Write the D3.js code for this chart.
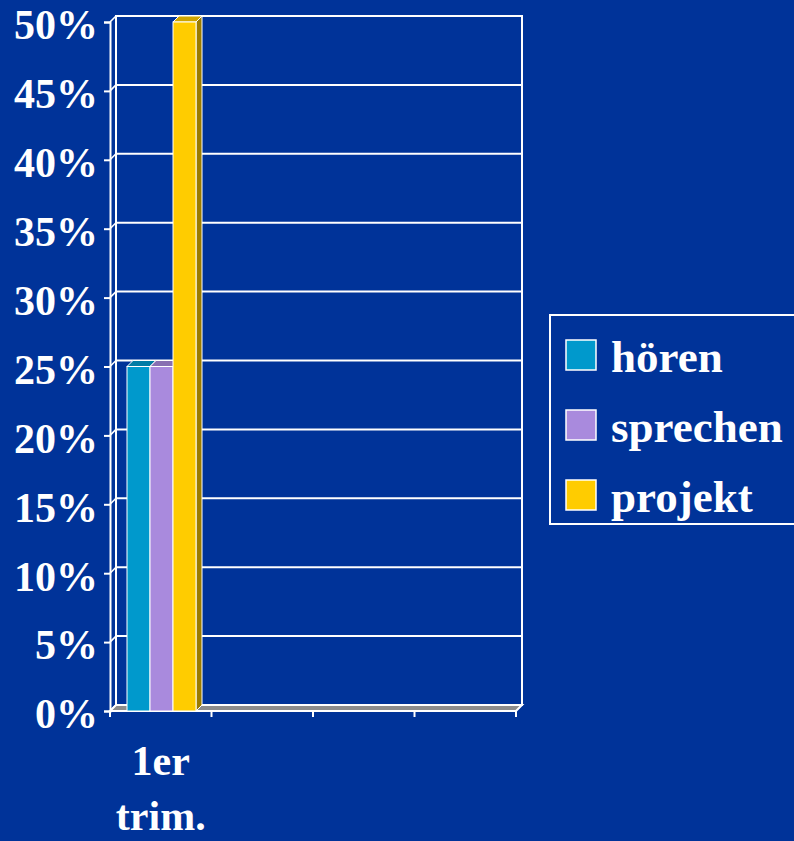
<!DOCTYPE html>
<html>
<head>
<meta charset="utf-8">
<script src="https://cdn.jsdelivr.net/npm/d3@7"></script>
<style>
  html, body { margin: 0; padding: 0; background: #003399; }
  svg { display: block; }
</style>
</head>
<body>
<div class="chart"></div>
<script>
// data
const categories = ["1er trim.", "", "", ""]
const seriesNames = ["hören", "sprechen", "projekt"]
const hoeren = [0.25, null, null, null]
const sprechen = [0.25, null, null, null]
const projekt = [0.50, null, null, null]
const yTicks = [0, 0.05, 0.1, 0.15, 0.2, 0.25, 0.3, 0.35, 0.4, 0.45, 0.5]

const colors = ["#0099CC", "#A98ADD", "#FFCC00"]
const width = 794
const height = 841
const depth = { dx: 6, dy: -6 }
const font = "'Liberation Serif', 'Times New Roman', serif"

const svg = d3.select(".chart").append("svg").attr("width", width).attr("height", height)
svg.append("rect").attr("width", width).attr("height", height).attr("fill", "#003399")

const yScale = d3.scaleLinear().domain([0, 0.5]).range([711, 22])
const xScale = d3.scaleBand().domain(d3.range(categories.length)).range([110, 516]).padding(0)
const inner = d3.scaleBand().domain(seriesNames).range([17, 86]).padding(0)

const y0 = yScale(0)
const xL = xScale.range()[0]
const xR = xScale.range()[1]

// back wall
const wall = svg.append("g")
wall.append("rect")
  .attr("x", xL + depth.dx).attr("y", yScale(0.5) + depth.dy)
  .attr("width", xR - xL).attr("height", y0 - yScale(0.5))
  .attr("fill", "none").attr("stroke", "#fff").attr("stroke-width", 2)

// gridlines + side wall connectors
yTicks.forEach(t => {
  const y = yScale(t)
  wall.append("line")
    .attr("x1", xL + depth.dx).attr("x2", xR + depth.dx)
    .attr("y1", y + depth.dy).attr("y2", y + depth.dy)
    .attr("stroke", "#fff").attr("stroke-width", 2)
  wall.append("line")
    .attr("x1", xL).attr("x2", xL + depth.dx)
    .attr("y1", y).attr("y2", y + depth.dy)
    .attr("stroke", "#fff").attr("stroke-width", 1.6)
})

// floor
svg.append("path")
  .attr("d", `M${xL},${y0} L${xL + depth.dx},${y0 + depth.dy} L${xR + depth.dx},${y0 + depth.dy} L${xR},${y0} Z`)
  .attr("fill", "#8C8C8C").attr("stroke", "#fff").attr("stroke-width", 2)

// y axis
const yAxis = d3.axisLeft(yScale)
  .tickValues(yTicks)
  .tickSize(6)
  .tickPadding(6)
  .tickFormat(d3.format(".0%"))

const yAxisGroup = svg.append("g").attr("transform", `translate(${xL},0)`).call(yAxis)
yAxisGroup.select(".domain").attr("stroke", "#fff").attr("stroke-width", 2)
yAxisGroup.selectAll(".tick line").attr("stroke", "#fff").attr("stroke-width", 2)
yAxisGroup.selectAll(".tick text")
  .attr("fill", "#fff")
  .attr("dy", "0.4em")
  .style("font-family", font)
  .style("font-size", "42px")
  .style("font-weight", "bold")

// x axis ticks at category boundaries
const xBounds = xScale.domain().map(i => xScale(i)).concat([xR])
svg.append("g").selectAll("line").data(xBounds).join("line")
  .attr("x1", d => d).attr("x2", d => d)
  .attr("y1", y0).attr("y2", y0 + 6)
  .attr("stroke", "#fff").attr("stroke-width", 2)

// x labels
const xLab = svg.append("g")
categories.forEach((c, i) => {
  if (!c) return
  const cx = xScale(i) + xScale.bandwidth() / 2
  const words = c.split(" ")
  words.forEach((w, j) => {
    xLab.append("text")
      .attr("x", cx).attr("y", 775 + j * 55)
      .attr("text-anchor", "middle")
      .attr("fill", "#fff")
      .style("font-family", font)
      .style("font-size", "42px")
      .style("font-weight", "bold")
      .text(w)
  })
})

// bars (3D)
const seriesValues = [hoeren, sprechen, projekt]
const bars = svg.append("g")
categories.forEach((c, i) => {
  seriesNames.forEach((s, k) => {
    const v = seriesValues[k][i]
    if (v == null) return
    const x0 = xScale(i) + inner(s)
    const x1 = x0 + inner.bandwidth()
    const yt = yScale(v)
    const col = d3.color(colors[k])
    const g = bars.append("g")
    // side face
    g.append("path")
      .attr("d", `M${x1},${yt} L${x1 + depth.dx},${yt + depth.dy} L${x1 + depth.dx},${y0 + depth.dy} L${x1},${y0} Z`)
      .attr("fill", col.darker(1.4)).attr("stroke", "#fff").attr("stroke-width", 1)
    // top face
    g.append("path")
      .attr("d", `M${x0},${yt} L${x0 + depth.dx},${yt + depth.dy} L${x1 + depth.dx},${yt + depth.dy} L${x1},${yt} Z`)
      .attr("fill", col.darker(0.6)).attr("stroke", "#fff").attr("stroke-width", 1)
    // front face
    g.append("rect")
      .attr("x", x0).attr("y", yt)
      .attr("width", x1 - x0).attr("height", y0 - yt)
      .attr("fill", colors[k]).attr("stroke", "#fff").attr("stroke-width", 1)
  })
})

// legend
const legend = svg.append("g").attr("transform", "translate(550,315)")
legend.append("rect")
  .attr("width", 260).attr("height", 209)
  .attr("fill", "#003399").attr("stroke", "#fff").attr("stroke-width", 2)
seriesNames.forEach((s, k) => {
  const item = legend.append("g").attr("transform", `translate(16,${25 + k * 70})`)
  item.append("rect")
    .attr("width", 30).attr("height", 30)
    .attr("fill", colors[k]).attr("stroke", "#fff").attr("stroke-width", 1.5)
  item.append("text")
    .attr("x", 45).attr("y", 32)
    .attr("fill", "#fff")
    .style("font-family", font)
    .style("font-size", "45px")
    .style("font-weight", "bold")
    .text(s)
})
</script>
</body>
</html>
